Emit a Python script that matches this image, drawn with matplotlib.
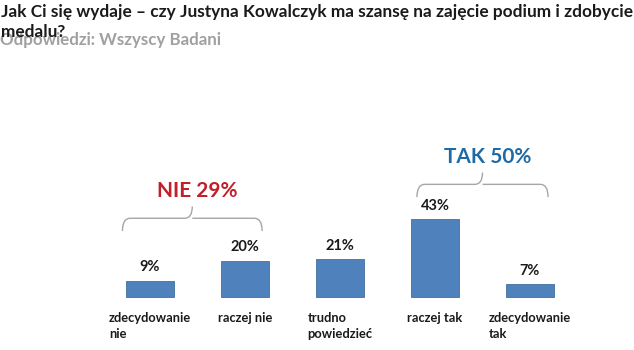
import matplotlib
matplotlib.use("Agg")
import numpy as np
import matplotlib.pyplot as plt
from matplotlib.path import Path
from matplotlib.patches import PathPatch

plt.rcParams["font.family"] = ["Lato", "DejaVu Sans"]

# data
categories = ["zdecydowanie\nnie", "raczej nie", "trudno\npowiedzieć", "raczej tak", "zdecydowanie\ntak"]
values = [9, 20, 21, 43, 7]
value_labels = ["9%", "20%", "21%", "43%", "7%"]
group_labels = ["NIE 29%", "TAK 50%"]
group_members = [[0, 1], [3, 4]]

title = "Jak Ci się wydaje – czy Justyna Kowalczyk ma szansę na zajęcie podium i zdobycie\nmedalu?"
subtitle = "Odpowiedzi: Wszyscy Badani"

BAR_COLOR = "#4F81BD"
GROUP_COLORS = ["#C0202A", "#1F6AA5"]
BRACE_COLOR = "#A6A6A6"

W, H = 634, 350
fig = plt.figure(figsize=(W / 100, H / 100), dpi=100)
ax = fig.add_axes([0, 0, 1, 1])

# pixel layout: bar 0 centred at 150px, step 95px, baseline 53px from bottom
px_per_unit = 95.0
px_per_pct = 78 / 43.0
ax.set_xlim(-150 / px_per_unit, (W - 150) / px_per_unit)
ax.set_ylim(-53 / px_per_pct, (H - 53) / px_per_pct)
ax.axis("off")

x = np.arange(len(values))
ax.bar(x, values, width=0.5, color=BAR_COLOR, edgecolor="#41719C", linewidth=0.6)

for xi, v, lab in zip(x, values, value_labels):
    ax.text(xi, v + 3.5, lab, ha="center", va="bottom", fontsize=10.5,
            fontweight="bold", color="#1A1A1A")

for xi, cat in zip(x, categories):
    ax.text(xi, -8.5, cat, ha="center", va="top", multialignment="left",
            fontsize=9.3, fontweight="bold", color="#1A1A1A", linespacing=1.35)


def brace(ax, x0, x1, y0, color):
    # curly brace opening downwards, y in data units
    xc = (x0 + x1) / 2
    h1 = 7.0   # ends to horizontal
    h2 = 6.5   # horizontal to tip
    dx = 0.08
    verts = [
        (x0, y0), (x0, y0 + h1), (x0 + dx, y0 + h1),
        (xc - dx, y0 + h1), (xc, y0 + h1), (xc, y0 + h1 + h2),
        (xc, y0 + h1), (xc + dx, y0 + h1),
        (x1 - dx, y0 + h1), (x1, y0 + h1), (x1, y0),
    ]
    codes = [Path.MOVETO, Path.CURVE3, Path.CURVE3,
             Path.LINETO, Path.CURVE3, Path.CURVE3,
             Path.MOVETO, Path.CURVE3,
             Path.LINETO, Path.CURVE3, Path.CURVE3]
    ax.add_patch(PathPatch(Path(verts, codes), facecolor="none",
                           edgecolor=color, linewidth=1.0))
    return xc, y0 + h1 + h2


brace_spans = [(-0.29, 1.18), (2.81, 4.19)]
brace_bases = [36.4, 55.1]
for members, (bx0, bx1), yb, lab, col in zip(group_members, brace_spans,
                                             brace_bases, group_labels, GROUP_COLORS):
    xc, ytop = brace(ax, bx0, bx1, yb, BRACE_COLOR)
    ax.text(xc + 0.05, ytop + 3.0, lab, ha="center", va="bottom",
            fontsize=15, fontweight="bold", color=col)

# subtitle sits under the wrapped title line, as in the source slide
fig.text(0 / W, 1 - 40 / H, subtitle, ha="left", va="center", fontsize=12.2,
         fontweight="bold", color="#A0A0A0", zorder=0)
fig.text(1 / W, 1 - 4 / H, title, ha="left", va="top", fontsize=12.4,
         fontweight="bold", color="#1A1A1A", linespacing=1.27, zorder=2)

fig.savefig("out.png", dpi=100)
